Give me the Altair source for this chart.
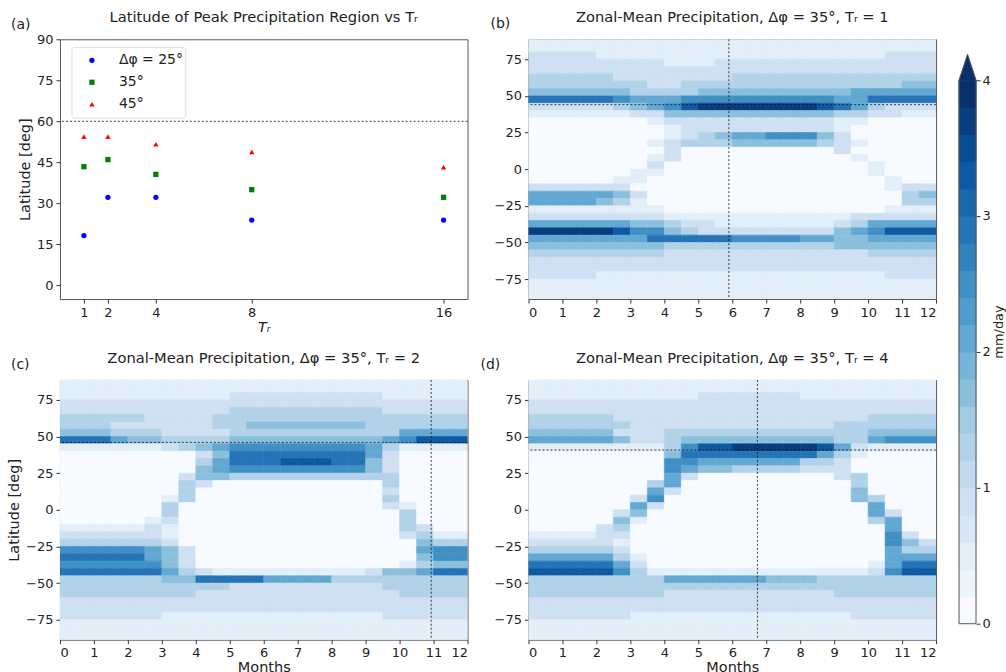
import altair as alt
import pandas as pd

FONT = "DejaVu Sans"
TXT = "#222222"

# ---------------- Panel (a) data ----------------
TR = [1, 2, 4, 8, 16]
LAT_25 = [18.2, 32.2, 32.2, 23.9, 23.9]
LAT_35 = [43.4, 46.0, 40.6, 35.0, 32.2]
LAT_45 = [54.4, 54.4, 51.6, 48.8, 43.2]
SERIES = ["25", "35", "45"]
SERIES_LABELS = ["Δφ = 25°", "35°", "45°"]
SERIES_COLORS = ["#0000ff", "#008000", "#ff0000"]
SERIES_SHAPES = ["circle", "square", "triangle-up"]
REF_LAT_A = 60

# ---------------- Heatmap data ----------------
# Each string is one 5-degree latitude band (90N at top -> 90S at bottom),
# each character one half-month column (0..12 months); digit d = d*0.4 mm/day.
PANEL_B = [
    "111111111111111111111111",
    "111111111111111111111111",
    "222211111111111111111222",
    "222222221112222222222222",
    "222222222222222222222222",
    "333332222222333333333333",
    "333333322333333333333344",
    "444444333344444444455555",
    "777776555666666666557777",
    "222223456899999998753222",
    "111111224444444444332211",
    "000000012222222222110000",
    "000000001222222222100000",
    "000000001234556664200000",
    "000000012333444443210000",
    "000000002000000000200000",
    "000000012000000000010000",
    "000000020000000000001000",
    "000000110000000000001000",
    "000001100000000000000100",
    "222222000000000000000122",
    "555554200000000000000034",
    "555543100000000000000033",
    "111111110000000000000111",
    "222222221111111111122222",
    "555555443221111111235555",
    "999998664322222222456888",
    "555555577777666655445555",
    "444444443333333333444444",
    "333333332222222222223333",
    "222222222222222222222222",
    "222222222222222222222222",
    "222211111111111111111222",
    "111111111111111111111111",
    "111111111111111111111111",
    "111111111111111111111111",
]

PANEL_C = [
    "111111111111111111111111",
    "111111111111111111111111",
    "111111111122222222211111",
    "222222222222222222222222",
    "222222222233333333322222",
    "333332222333333333333333",
    "333222222334444444333333",
    "444333222233333333335555",
    "777544333344444444456888",
    "111111234566666666531111",
    "000000002477777777520000",
    "000000003577788877420000",
    "000000004566666666420000",
    "000000024433333333330000",
    "000000032000000000030000",
    "000000030000000000020000",
    "000000130000000000030000",
    "000000300000000000021000",
    "000000300000000000003000",
    "000001200000000000003000",
    "111112100000000000003200",
    "222222100000000000002311",
    "333333200000000000000433",
    "666665420000000000000566",
    "777775420000000000000466",
    "666666420000000000001344",
    "777777532111111111244577",
    "333333447777555533333333",
    "333333333322222222233333",
    "333333332222222222223333",
    "222222222222222222222222",
    "222222222222222222222222",
    "222222111111111111122222",
    "111111111111111111111111",
    "111111111111111111111111",
    "111111111111111111111111",
]

PANEL_D = [
    "111111111111111111111111",
    "111111111111111111111111",
    "111111111122222211111111",
    "222222222222222222222222",
    "222222222222222222222222",
    "333332222222222222223333",
    "333333222222222222333333",
    "444442223333333333334444",
    "555554223444444444335666",
    "111111113688999998521111",
    "000000004777777775310000",
    "000000006655555533200000",
    "000000006544333322200000",
    "000000005200000000230000",
    "000000035000000000030000",
    "000000052000000000040000",
    "000000260000000000043000",
    "000000520000000000005000",
    "000002400000000000005200",
    "000004100000000000003500",
    "000023000000000000000500",
    "111122000000000000000620",
    "222221000000000000000642",
    "333332000000000000000533",
    "555553100000000000000555",
    "777775200000000000001577",
    "888886311111111111112688",
    "333333335555554443333333",
    "333333333333333333333333",
    "333333332222222222333333",
    "222222222222222222222222",
    "222222222222222222222222",
    "222222111111111111122222",
    "111111111111111111111111",
    "111111111111111111111111",
    "111111111111111111111111",
]

# (peak latitude, month of marker line) for each panel
LINES_B = (44.0, 5.9)
LINES_C = (46.0, 10.93)
LINES_D = (40.8, 6.74)

CB_LEVELS = [0.0, 0.2, 0.4, 0.6, 0.8, 1.0, 1.2, 1.4, 1.6, 1.8,
             2.0, 2.2, 2.4, 2.6, 2.8, 3.0, 3.2, 3.4, 3.6, 3.8]
CB_TICKS = [0, 1, 2, 3, 4]

# matplotlib "Blues" colour stops
BLUES = ["#f7fbff", "#deebf7", "#c6dbef", "#9ecae1", "#6baed6",
         "#4292c6", "#2171b5", "#08519c", "#08306b"]

LAT_STEP = 5
MONTH_STEP = 0.5
UNIT = 0.4

PW, PH = 408, 260
LAT_LIM = 88.6

cscale = alt.Scale(domain=[3.8 * i / 8 for i in range(9)], range=BLUES,
                   interpolate="rgb", clamp=True)


def text_layer(text, dx, dy, size=14, align="left"):
    return alt.Chart(pd.DataFrame({"t": [text]})).mark_text(
        align=align, baseline="middle", fontSize=size, font=FONT, color=TXT
    ).encode(x=alt.value(dx), y=alt.value(dy), text="t:N")


def title_layer(text):
    return text_layer(text, PW / 2, -20.9, size=14.7, align="center")


def heat_df(rows):
    recs = []
    for i, row in enumerate(rows):
        hi = 90 - LAT_STEP * i
        for j, ch in enumerate(row):
            recs.append({"m0": j * MONTH_STEP, "m1": (j + 1) * MONTH_STEP,
                         "lat0": hi - LAT_STEP, "lat1": hi, "p": int(ch) * UNIT})
    return pd.DataFrame(recs)


def heat_panel(rows, ttl, lab, labdx, lines, xtitle, ytitle):
    df = heat_df(rows)
    xs = alt.Scale(domain=[0, 12], nice=False, zero=False)
    ys = alt.Scale(domain=[-LAT_LIM, LAT_LIM], nice=False, zero=False)
    xaxis = alt.Axis(values=list(range(13)), title=xtitle if xtitle else "",
                     format="d", titlePadding=1, labelOverlap=False)
    yaxis = alt.Axis(values=[-75, -50, -25, 0, 25, 50, 75],
                     title=ytitle if ytitle else "", format="d", titlePadding=4,
                     labelOverlap=False)
    rect = alt.Chart(df).mark_rect(clip=True, strokeWidth=0.6).encode(
        x=alt.X("m0:Q", scale=xs, axis=xaxis),
        x2="m1:Q",
        y=alt.Y("lat0:Q", scale=ys, axis=yaxis),
        y2="lat1:Q",
        color=alt.Color("p:Q", scale=cscale, legend=None),
        stroke=alt.Stroke("p:Q", scale=cscale, legend=None),
    )
    hl, vl = lines
    hr = alt.Chart(pd.DataFrame({"lat0": [hl]})).mark_rule(
        color="#111", strokeWidth=0.8, strokeDash=[2, 2]).encode(
        y=alt.Y("lat0:Q", scale=ys, axis=yaxis))
    vr = alt.Chart(pd.DataFrame({"m0": [vl]})).mark_rule(
        color="#111", strokeWidth=0.8, strokeDash=[2, 2]).encode(
        x=alt.X("m0:Q", scale=xs, axis=xaxis))
    return alt.layer(rect, hr, vr, text_layer(lab, labdx, -15),
                     title_layer(ttl)).properties(width=PW, height=PH)


# ---------------- Panel (a) ----------------
recs = []
for s, vals in zip(SERIES, [LAT_25, LAT_35, LAT_45]):
    for t, v in zip(TR, vals):
        recs.append({"Tr": t, "lat": v, "series": s})
dfa = pd.DataFrame(recs)

xa = alt.Scale(domain=[0, 17], nice=False, zero=False)
ya = alt.Scale(domain=[-5, 90], nice=False, zero=False)
xa_axis = alt.Axis(values=TR, title="Tᵣ", format="d", titleFontStyle="italic",
                   titlePadding=1, labelOverlap=False)
ya_axis = alt.Axis(values=[0, 15, 30, 45, 60, 75, 90], title="Latitude [deg]",
                   titlePadding=4, labelOverlap=False)
pts = alt.Chart(dfa).mark_point(filled=True, size=28, opacity=1).encode(
    x=alt.X("Tr:Q", scale=xa, axis=xa_axis),
    y=alt.Y("lat:Q", scale=ya, axis=ya_axis),
    color=alt.Color("series:N", scale=alt.Scale(domain=SERIES, range=SERIES_COLORS), legend=None),
    shape=alt.Shape("series:N", scale=alt.Scale(domain=SERIES, range=SERIES_SHAPES), legend=None),
)
ref = alt.Chart(pd.DataFrame({"lat": [REF_LAT_A]})).mark_rule(
    color="#111", strokeWidth=0.8, strokeDash=[2, 2]).encode(
    y=alt.Y("lat:Q", scale=ya, axis=ya_axis))

legend_box = alt.Chart(pd.DataFrame({"k": [0]})).mark_rect(
    fill="white", stroke="#dddddd", strokeWidth=1, cornerRadius=3
).encode(x=alt.value(12), x2=alt.value(126), y=alt.value(8), y2=alt.value(79))
legend_layers = [legend_box]
for k, (lab, col, shp) in enumerate(zip(SERIES_LABELS, SERIES_COLORS, SERIES_SHAPES)):
    yy = 21 + 22 * k
    d = pd.DataFrame({"t": [lab]})
    legend_layers.append(alt.Chart(d).mark_point(
        filled=True, size=28, color=col, shape=shp, opacity=1
    ).encode(x=alt.value(32), y=alt.value(yy)))
    legend_layers.append(alt.Chart(d).mark_text(
        align="left", baseline="middle", fontSize=14, font=FONT, color=TXT
    ).encode(x=alt.value(59), y=alt.value(yy), text="t:N"))

panel_a = alt.layer(ref, pts, *legend_layers, text_layer("(a)", -49, -14),
                    title_layer("Latitude of Peak Precipitation Region vs Tᵣ")).properties(
    width=PW, height=PH)

panel_b = heat_panel(PANEL_B, "Zonal-Mean Precipitation, Δφ = 35°, Tᵣ = 1", "(b)", -38,
                     LINES_B, None, None)
panel_c = heat_panel(PANEL_C, "Zonal-Mean Precipitation, Δφ = 35°, Tᵣ = 2", "(c)", -49,
                     LINES_C, "Months", "Latitude [deg]")
panel_d = heat_panel(PANEL_D, "Zonal-Mean Precipitation, Δφ = 35°, Tᵣ = 4", "(d)", -48,
                     LINES_D, "Months", None)

# ---------------- Colorbar ----------------
CB_TOP = 4.30
cb_df = pd.DataFrame({"lo": CB_LEVELS, "hi": [v + 0.2 for v in CB_LEVELS]})
cys = alt.Scale(domain=[0, CB_TOP], nice=False, zero=False)
cxs = alt.Scale(domain=[0, 1], nice=False, zero=False)
cb_axis = alt.Axis(orient="right", values=CB_TICKS, format="d", title="mm/day",
                   titleAngle=270, titleBaseline="top", titlePadding=2,
                   titleFontSize=13, labelPadding=2, labelOverlap=False)
cb_rect = alt.Chart(cb_df).mark_rect().encode(
    x=alt.value(0), x2=alt.value(17),
    y=alt.Y("lo:Q", scale=cys, axis=cb_axis),
    y2="hi:Q",
    color=alt.Color("lo:Q", scale=cscale, legend=None),
    stroke=alt.Stroke("lo:Q", scale=cscale, legend=None),
)
tri = alt.Chart(pd.DataFrame({"x": [0, 0.5, 1], "lo": [4, 4, 4], "y2": [4, 4.19, 4]})).mark_area(
    color="#08306b", opacity=1).encode(
    x=alt.X("x:Q", scale=cxs, axis=None), y=alt.Y("lo:Q", scale=cys, axis=cb_axis), y2="y2:Q")
outline = alt.Chart(pd.DataFrame({"x": [0, 0, 0.5, 1, 1, 0], "lo": [0, 4, 4.19, 4, 0, 0],
                                  "o": [0, 1, 2, 3, 4, 5]})).mark_line(
    color="#555", strokeWidth=1).encode(
    x=alt.X("x:Q", scale=cxs, axis=None), y=alt.Y("lo:Q", scale=cys, axis=cb_axis),
    order="o:Q")
colorbar = alt.layer(cb_rect, tri, outline).properties(
    width=17, height=585, view=alt.ViewBackground(stroke="transparent"))

row1 = alt.hconcat(panel_a, panel_b, spacing=61, bounds="flush")
row2 = alt.hconcat(panel_c, panel_d, spacing=61, bounds="flush")
left = alt.vconcat(row1, row2, spacing=16)
chart = alt.hconcat(left, colorbar, spacing=19).properties(
    padding={"left": 6, "top": 9, "right": 0, "bottom": 0}
).configure_view(stroke="#555555", strokeWidth=1).configure_axis(
    labelFont=FONT, labelFontSize=13, labelColor=TXT,
    titleFont=FONT, titleFontSize=14.5, titleFontWeight="normal", titleColor=TXT,
    tickColor="#333333", tickSize=4, domain=False, grid=False, labelPadding=3,
)

chart.save("out.html", embed_options={"renderer": "svg", "actions": False})
